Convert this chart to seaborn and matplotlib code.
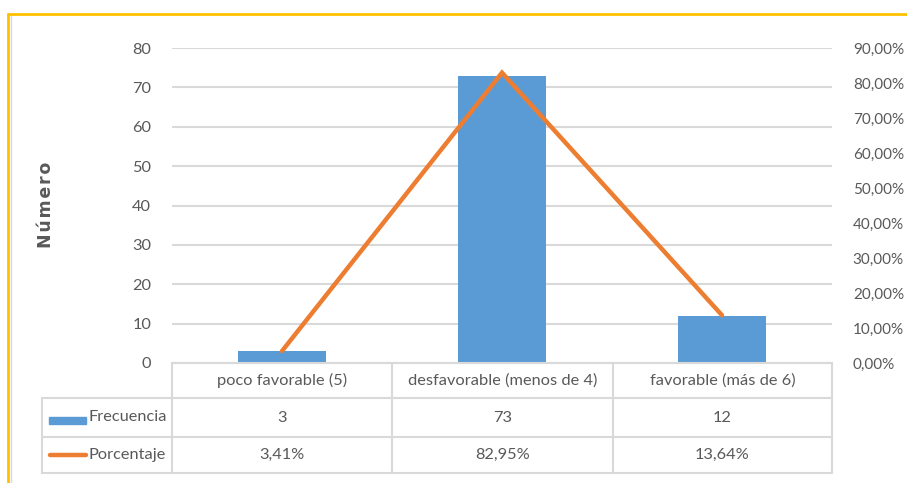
import matplotlib
matplotlib.use("Agg")
import matplotlib.pyplot as plt
from matplotlib.lines import Line2D
from matplotlib.patches import Rectangle
import seaborn as sns
import pandas as pd

# Data
categorias = ["poco favorable (5)", "desfavorable (menos de 4)", "favorable (más de 6)"]
frecuencia = [3, 73, 12]
porcentaje = [3.41, 82.95, 13.64]
serie_frec = "Frecuencia"
serie_pct = "Porcentaje"
eje_y = "Número"

sns.set_theme(style="white")
plt.rcParams["font.family"] = ["Lato", "DejaVu Sans"]

GREY_TXT = "#595959"
GRID = "#D9D9D9"
BLUE = "#5B9BD5"
ORANGE = "#ED7D31"
FS = 11.8

W, H = 907, 483
fig = plt.figure(figsize=(W / 100, H / 100), dpi=100)
fig.patch.set_facecolor("white")

def fx(px):
    return px / W

def fy(py):
    return 1 - py / H

x0, x1, ytop, ybot = 172, 832, 48, 363
ax = fig.add_axes([fx(x0), fy(ybot), fx(x1) - fx(x0), fy(ytop) - fy(ybot)])

df = pd.DataFrame({"cat": categorias, "frec": frecuencia, "pct": porcentaje})
sns.barplot(data=df, x="cat", y="frec", color=BLUE, width=0.4, saturation=1, ax=ax,
            edgecolor="none")
ax.set_ylim(0, 80)
ax.set_xlim(-0.5, 2.5)
ax.set_yticks(range(0, 81, 10))
ax.yaxis.grid(True, color=GRID, linewidth=1.5)
ax.set_axisbelow(True)
ax.set_xticks([])
ax.set_xlabel("")
ax.set_ylabel("")
for s in ax.spines.values():
    s.set_visible(False)
ax.tick_params(axis="y", length=0, pad=15, labelsize=FS, labelcolor=GREY_TXT)

ax2 = ax.twinx()
sns.lineplot(x=[0, 1, 2], y=df["pct"], color=ORANGE, linewidth=3.2, ax=ax2,
             solid_capstyle="round", solid_joinstyle="miter")
ax2.set_ylim(0, 90)
ax2.set_yticks(range(0, 91, 10))
ax2.set_yticklabels([f"{v:.2f}%".replace(".", ",") for v in range(0, 91, 10)])
ax2.tick_params(axis="y", length=0, pad=15, labelsize=11, labelcolor=GREY_TXT)
ax2.set_ylabel("")
ax2.grid(False)
for s in ax2.spines.values():
    s.set_visible(False)
ax.set_xlim(-0.5, 2.5)

# Data table beneath the plot
cols = [172, 392, 613, 832]
rows = [363, 398, 437, 473]
left = 42

def hline(y, xa, xb, c=GRID, lw=1.5):
    fig.add_artist(Line2D([fx(xa), fx(xb)], [fy(y), fy(y)], color=c, lw=lw))

def vline(x, ya, yb, c=GRID, lw=1.5):
    fig.add_artist(Line2D([fx(x), fx(x)], [fy(ya), fy(yb)], color=c, lw=lw))

hline(rows[0], cols[0], cols[-1])
for y in rows[1:]:
    hline(y, left, cols[-1])
for x in cols:
    vline(x, rows[0], rows[-1])
vline(left, rows[1], rows[-1])

for i, c in enumerate(categorias):
    xc = (cols[i] + cols[i + 1]) / 2
    fig.text(fx(xc), fy((rows[0] + rows[1]) / 2), c, ha="center", va="center",
             fontsize=FS, color=GREY_TXT)
    fig.text(fx(xc), fy((rows[1] + rows[2]) / 2), f"{frecuencia[i]}", ha="center",
             va="center", fontsize=FS, color=GREY_TXT)
    fig.text(fx(xc), fy((rows[2] + rows[3]) / 2), f"{porcentaje[i]:.2f}%".replace(".", ","),
             ha="center", va="center", fontsize=FS, color=GREY_TXT)

# Legend keys inside the table
fig.add_artist(Rectangle((fx(49), fy(424)), fx(86) - fx(49), fy(417) - fy(424),
                         color=BLUE, transform=fig.transFigure))
fig.add_artist(Line2D([fx(50), fx(86)], [fy(455), fy(455)], color=ORANGE, lw=3.2,
                      solid_capstyle="round"))
fig.text(fx(88), fy(417), serie_frec, ha="left", va="center", fontsize=FS, color=GREY_TXT)
fig.text(fx(88), fy(455), serie_pct, ha="left", va="center", fontsize=FS, color=GREY_TXT)

# Axis title, slightly letter-spaced with hair spaces
fig.text(fx(46), fy(205), "\u200a".join(eje_y), rotation=90, ha="center", va="center",
         fontsize=12.5, color=GREY_TXT, family=["DejaVu Sans"], fontweight="bold")

# Frame
fig.add_artist(Line2D([fx(8), fx(907)], [fy(14), fy(14)], color="#FFC000", lw=2))
fig.add_artist(Line2D([fx(8), fx(8)], [fy(14), fy(483)], color="#FFC000", lw=2))
fig.add_artist(Line2D([fx(10.5), fx(10.5)], [fy(16), fy(483)], color="#D9D9D9", lw=1))

fig.savefig("out.png", dpi=100, facecolor="white")
